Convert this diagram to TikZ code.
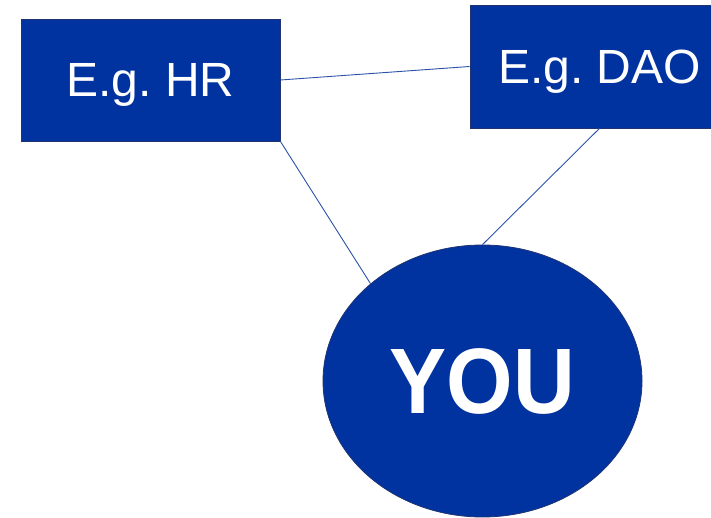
\documentclass[tikz,border=0pt]{standalone}
\usepackage{fontspec}
\setmainfont{Liberation Sans}
\usetikzlibrary{shapes.geometric}
\frenchspacing
\definecolor{boxblue}{HTML}{0033A0}
\definecolor{boxedge}{HTML}{1F3470}
\definecolor{linkblue}{HTML}{2A52A8}
\tikzset{
  unitbox/.style={rectangle, fill=boxblue, draw=boxedge, line width=0.8pt,
    minimum width=259pt, minimum height=122pt, inner sep=0pt,
    text=white, font=\fontsize{48}{50}\selectfont, text depth=0pt},
  youellipse/.style={ellipse, fill=boxblue, draw=boxedge, line width=0.8pt,
    minimum width=319pt, minimum height=272pt, inner sep=0pt,
    text=white, font=\bfseries\fontsize{93}{95}\selectfont},
  link/.style={draw=linkblue, line width=0.9pt}
}
\begin{document}
\begin{tikzpicture}[x=1pt,y=-1pt]
\useasboundingbox (0,0) rectangle (711,518);
\node[unitbox] (hr) at (150.5,80) {E.g.\ HR};
\node[unitbox, minimum height=123pt] (dao) at (599.5,66.5) {E.g.\ DAO};
\node[youellipse] (you) at (482.5,381) {\scalebox{0.92}[1]{YOU}};
\draw[link] (hr.east) -- (dao.west);
\draw[link] (hr.south east) -- (you.139);
\draw[link] (dao.south) -- (you.north);
\end{tikzpicture}
\end{document}
